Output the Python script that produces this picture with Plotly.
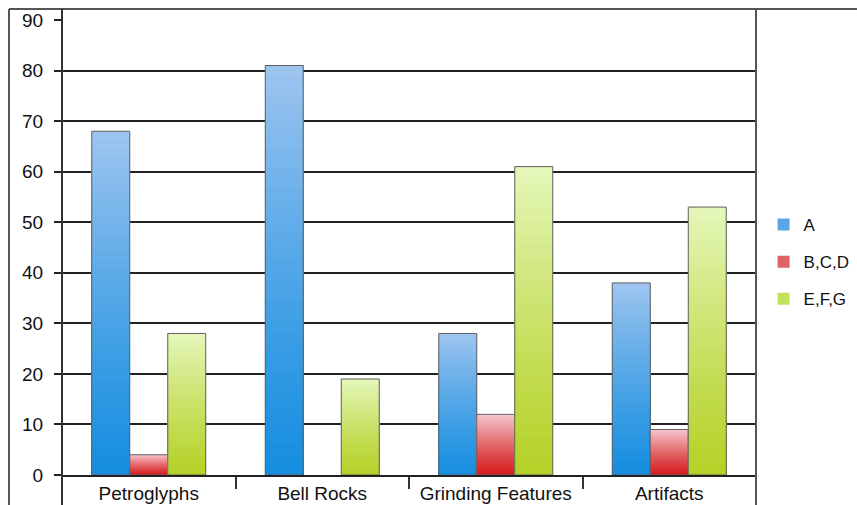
import plotly.graph_objects as go

categories = ["Petroglyphs", "Bell Rocks", "Grinding Features", "Artifacts"]
series_names = ["A", "B,C,D", "E,F,G"]
values_a = [68, 81, 28, 38]
values_bcd = [4, 0, 12, 9]
values_efg = [28, 19, 61, 53]
y_ticks = [0, 10, 20, 30, 40, 50, 60, 70, 80, 90]

series = [values_a, values_bcd, values_efg]
# gradient colours: (bottom, top), legend colour
grads = [((21, 142, 224), (156, 196, 239)),
         ((214, 30, 30), (245, 196, 204)),
         ((181, 210, 40), (228, 246, 184))]
legend_cols = ["#5ba6e6", "#e06262", "#c4e15a"]

N = 40
fig = go.Figure()


def mix(c0, c1, t):
    return "rgb(%d,%d,%d)" % tuple(round(a + (b - a) * t) for a, b in zip(c0, c1))


for s, (name, vals) in enumerate(zip(series_names, series)):
    bottom, top = grads[s]
    for i in range(N):
        f = (N - i) / N
        fig.add_trace(go.Bar(
            x=categories, y=[v * f for v in vals],
            offsetgroup=str(s), marker=dict(color=mix(bottom, top, f ** 1.2), line=dict(width=0)),
            showlegend=False, hoverinfo="skip"))
    # outline
    fig.add_trace(go.Bar(
        x=categories, y=[v if v else None for v in vals], name=name, offsetgroup=str(s),
        legendgroup=name,
        marker=dict(color="rgba(0,0,0,0)", line=dict(color="#5f5f5f", width=1)),
        showlegend=False))
    # legend entry
    fig.add_trace(go.Bar(
        x=[None], y=[None], name=name, legendgroup=name, offsetgroup=str(s),
        marker=dict(color=legend_cols[s], line=dict(width=0)), showlegend=True))

line_col = "#555555"
shapes = [
    dict(type="line", xref="paper", yref="paper", x0=-0.0764, x1=1.1455, y0=1.024, y1=1.024,
         line=dict(color=line_col, width=2)),
    dict(type="line", xref="paper", yref="paper", x0=-0.0764, x1=-0.0764, y0=1.024, y1=-0.07,
         line=dict(color=line_col, width=2)),
    dict(type="line", xref="paper", yref="paper", x0=1, x1=1, y0=1.024, y1=-0.07,
         line=dict(color=line_col, width=2)),
    dict(type="line", xref="paper", yref="paper", x0=0, x1=0, y0=1.024, y1=-0.07,
         line=dict(color="#333333", width=2)),
]

fig.update_layout(
    width=857, height=505,
    margin=dict(l=62, r=101, t=20, b=30, autoexpand=False),
    paper_bgcolor="white", plot_bgcolor="white",
    barmode="group", bargap=0.343, bargroupgap=0,
    font=dict(family="Liberation Sans, Arial, sans-serif", size=19, color="#111111"),
    showlegend=True,
    legend=dict(xref="container", x=0.891, y=0.468, xanchor="left", yanchor="middle",
                font=dict(size=17), traceorder="grouped", tracegroupgap=12,
                itemwidth=30, bgcolor="rgba(0,0,0,0)"),
    shapes=shapes,
    xaxis=dict(type="category", tickson="boundaries", ticks="outside", ticklen=12,
               tickwidth=2, tickcolor="#333333", showgrid=False,
               showline=True, linecolor="#222222", linewidth=2),
    yaxis=dict(range=[0, 90], tickvals=y_ticks, ticks="outside", ticklen=7,
               tickwidth=2, tickcolor="#222222", showgrid=True, gridcolor="#222222",
               gridwidth=2, zeroline=False, showline=False, ticklabelstandoff=7),
)

fig.write_html("out.html")
